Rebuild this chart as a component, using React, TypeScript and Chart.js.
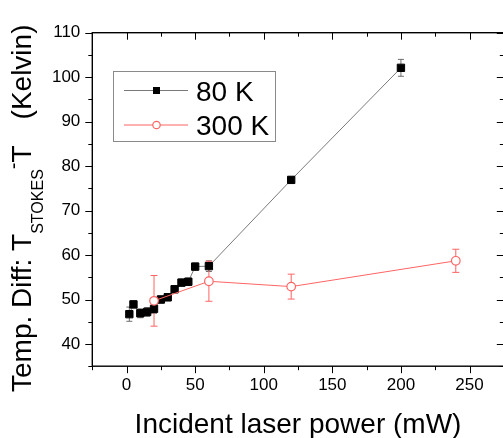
import { useEffect, useRef } from 'react';
import { Chart, registerables } from 'chart.js';
Chart.register(...registerables);

const FONT = '"Liberation Sans", Arial, Helvetica, sans-serif';

// ---- data ----
const power80 = [2, 5, 10, 15, 20, 25, 30, 35, 40, 45, 50, 60, 120, 200];
const temp80 = [46.7, 48.9, 46.9, 47.2, 47.9, 50.0, 50.5, 52.3, 53.8, 54.0, 57.4, 57.5, 76.9, 102.1];
const err80 = [1.6, 0.8, 1.0, 1.0, 1.0, 0.8, 0.8, 0.8, 0.8, 0.8, 0.8, 1.2, 0.7, 1.9];

const power300 = [20, 60, 120, 240];
const temp300 = [49.7, 54.1, 52.9, 58.7];
const err300 = [5.7, 4.5, 2.8, 2.6];

const xTicks = [0, 50, 100, 150, 200, 250];
const yTicks = [40, 50, 60, 70, 80, 90, 100, 110];
const labels = ['80 K', '300 K'];

const COL80_LINE = '#7a7a7a';
const COL80_ERR = '#6e6e6e';
const COL300 = '#ff6464';

export default function App() {
  const ref = useRef<HTMLCanvasElement>(null);

  useEffect(() => {
    const errs = [err80, err300];
    const errColors = [COL80_ERR, COL300];
    const capHalf = [3, 3.5];

    const errorBars = {
      id: 'errorBars',
      beforeDatasetsDraw(chart: any) {
        const { ctx, scales } = chart;
        const xs = scales.x, ys = scales.y;
        chart.data.datasets.forEach((ds: any, di: number) => {
          const e = errs[di];
          ctx.save();
          ctx.strokeStyle = errColors[di];
          ctx.lineWidth = 1;
          ds.data.forEach((p: any, i: number) => {
            const px = xs.getPixelForValue(p.x);
            const y1 = ys.getPixelForValue(p.y + e[i]);
            const y2 = ys.getPixelForValue(p.y - e[i]);
            ctx.beginPath();
            ctx.moveTo(px, y1); ctx.lineTo(px, y2);
            ctx.moveTo(px - capHalf[di], y1); ctx.lineTo(px + capHalf[di], y1);
            ctx.moveTo(px - capHalf[di], y2); ctx.lineTo(px + capHalf[di], y2);
            ctx.stroke();
          });
          ctx.restore();
        });
      },
    };

    const frame = {
      id: 'frame',
      afterDraw(chart: any) {
        const { ctx, chartArea: a, scales } = chart;
        const xs = scales.x, ys = scales.y;
        ctx.save();
        ctx.strokeStyle = '#000';
        ctx.lineWidth = 1;
        // minor + major ticks
        ctx.beginPath();
        for (let v = xs.min; v <= xs.max + 0.001; v += 25) {
          const major = Math.abs(v % 50) < 0.001;
          const len = major ? 7 : 4;
          const px = Math.round(xs.getPixelForValue(v)) + 0.5;
          ctx.moveTo(px, a.bottom); ctx.lineTo(px, a.bottom + len);
          ctx.moveTo(px, a.top); ctx.lineTo(px, a.top + len);
        }
        for (let v = ys.min; v <= ys.max + 0.001; v += 5) {
          const major = Math.abs(v % 10) < 0.001;
          const len = major ? 7 : 4;
          const py = Math.round(ys.getPixelForValue(v)) + 0.5;
          ctx.moveTo(a.left - len, py); ctx.lineTo(a.left, py);
          ctx.moveTo(a.right - len, py); ctx.lineTo(a.right, py);
        }
        ctx.stroke();
        ctx.lineWidth = 1.4;
        ctx.strokeRect(a.left, a.top, a.right - a.left, a.bottom - a.top);

        // legend
        const bx = 113, by = 71, bw = 162, bh = 70;
        ctx.lineWidth = 1;
        ctx.strokeStyle = '#8a8a8a';
        ctx.strokeRect(bx + 0.5, by + 0.5, bw, bh);
        const rows = [90.5, 125];
        // 80 K
        ctx.strokeStyle = COL80_LINE;
        ctx.beginPath(); ctx.moveTo(124, rows[0]); ctx.lineTo(188, rows[0]); ctx.stroke();
        ctx.fillStyle = '#000';
        ctx.fillRect(156.5 - 3.5, rows[0] - 3.5, 7, 7);
        // 300 K
        ctx.strokeStyle = COL300;
        ctx.beginPath(); ctx.moveTo(124, rows[1]); ctx.lineTo(188, rows[1]); ctx.stroke();
        ctx.fillStyle = '#fff';
        ctx.lineWidth = 1.2;
        ctx.beginPath(); ctx.arc(156.5, rows[1], 3.7, 0, Math.PI * 2); ctx.fill(); ctx.stroke();
        ctx.fillStyle = '#000';
        ctx.font = `28px ${FONT}`;
        ctx.textAlign = 'left';
        ctx.textBaseline = 'alphabetic';
        ctx.fillText(labels[0], 196, rows[0] + 10);
        ctx.fillText(labels[1], 196, rows[1] + 10);

        // x title
        ctx.textAlign = 'center';
        ctx.fillText('Incident laser power (mW)', 298, 433);

        // y title (rotated, with subscript)
        ctx.save();
        ctx.translate(31, 392);
        ctx.rotate(-Math.PI / 2);
        ctx.textAlign = 'left';
        let s = 0;
        ctx.font = `28px ${FONT}`;
        const p1 = 'Temp. Diff: T';
        ctx.fillText(p1, s, 0);
        s += ctx.measureText(p1).width;
        ctx.font = `16px ${FONT}`;
        ctx.fillText('STOKES', s, 11.5);
        s += ctx.measureText('STOKES').width;
        ctx.font = `20px ${FONT}`;
        ctx.fillText('-', s, -11);
        s += ctx.measureText('-').width;
        ctx.font = `28px ${FONT}`;
        ctx.fillText('T', s, 0);
        s += ctx.measureText('T').width;
        s += 26;
        ctx.fillText('(Kelvin)', s, 0);
        ctx.restore();

        ctx.restore();
      },
    };

    const chart = new Chart(ref.current!, {
      type: 'scatter',
      data: {
        datasets: [
          {
            label: labels[0],
            data: power80.map((x, i) => ({ x, y: temp80[i] })),
            showLine: true,
            borderColor: COL80_LINE,
            borderWidth: 1,
            pointStyle: 'rect',
            pointRadius: 5.2,
            pointBackgroundColor: '#000',
            pointBorderColor: '#000',
            pointBorderWidth: 1,
            order: 1,
          },
          {
            label: labels[1],
            data: power300.map((x, i) => ({ x, y: temp300[i] })),
            showLine: true,
            borderColor: COL300,
            borderWidth: 1,
            pointStyle: 'circle',
            pointRadius: 4.3,
            pointBackgroundColor: '#fff',
            pointBorderColor: COL300,
            pointBorderWidth: 1.2,
            order: 0,
          },
        ],
      } as any,
      options: {
        responsive: false,
        animation: false,
        layout: { padding: { left: 0, top: 32.7, right: 5, bottom: 0 } },
        plugins: { legend: { display: false }, tooltip: { enabled: false } },
        scales: {
          x: {
            type: 'linear',
            min: -25,
            max: 275,
            afterBuildTicks: (sc: any) => { sc.ticks = xTicks.map((v) => ({ value: v })); },
            afterFit: (sc: any) => { sc.height = 71.8; },
            grid: { display: false, drawTicks: false },
            border: { display: false },
            ticks: { font: { family: FONT, size: 17 }, color: '#000', padding: 9, maxRotation: 0, autoSkip: false },
          },
          y: {
            type: 'linear',
            min: 35,
            max: 110,
            afterBuildTicks: (sc: any) => { sc.ticks = yTicks.map((v) => ({ value: v })); },
            afterFit: (sc: any) => { sc.width = 92.3; },
            grid: { display: false, drawTicks: false },
            border: { display: false },
            ticks: { font: { family: FONT, size: 17 }, color: '#000', padding: 12, autoSkip: false },
          },
        },
      } as any,
      plugins: [errorBars, frame],
    });
    return () => chart.destroy();
  }, []);

  return (
    <div style={{ position: 'fixed', left: 0, top: 0, width: 503, height: 438, overflow: 'hidden', background: '#fff' }}>
      <canvas ref={ref} width={510} height={438} style={{ display: 'block', width: 510, height: 438 }} />
    </div>
  );
}
